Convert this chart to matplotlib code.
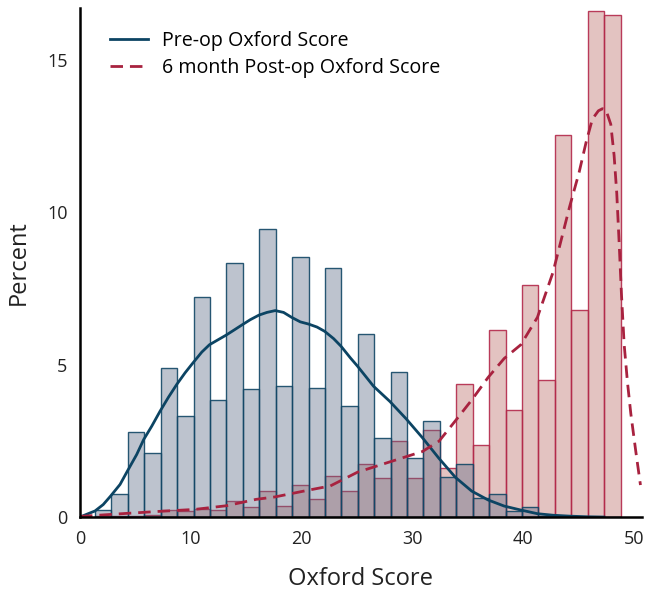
import numpy as np
import matplotlib
matplotlib.use('Agg')
import matplotlib.pyplot as plt

plt.rcParams['font.family'] = ['Open Sans', 'DejaVu Sans']

# histogram bins (32 bins of ~1.48 points)
bin_edges = np.linspace(1.36, 48.8, 33)

# percent of patients per bin
pre_op = [0.22, 0.77, 2.79, 2.09, 4.89, 3.31, 7.20, 3.83, 8.33, 4.19, 9.46, 4.31,
          8.52, 4.22, 8.16, 3.63, 5.99, 2.60, 4.77, 1.92, 3.16, 1.30, 1.75, 0.62,
          0.77, 0.20, 0.34, 0.05, 0.02, 0.01, 0.0, 0.0]
post_op = [0.02, 0.04, 0.05, 0.08, 0.22, 0.20, 0.25, 0.22, 0.53, 0.34, 0.85, 0.36,
           1.05, 0.60, 1.36, 0.84, 1.75, 1.27, 2.49, 1.27, 2.87, 1.62, 4.37, 2.35,
           6.12, 3.50, 7.60, 4.49, 12.52, 6.78, 16.59, 16.45]

# density curves
pre_kde_x = [0.0, 0.6, 1.36, 2.1, 2.77, 3.62, 4.27, 5.12, 5.75, 6.48, 7.23, 7.99,
             8.74, 9.49, 10.19, 11.0, 11.69, 12.5, 13.17, 13.86, 14.67, 15.37,
             16.15, 16.88, 17.63, 18.38, 19.1, 19.89, 20.62, 21.4, 22.09, 22.9,
             23.57, 24.41, 25.05, 26.5, 27.98, 29.45, 30.92, 32.42, 33.9, 35.37,
             36.85, 38.3, 39.8, 41.3, 42.7, 44.2, 45.7, 47.3]
pre_kde_y = [0.0, 0.09, 0.20, 0.41, 0.69, 1.07, 1.50, 2.05, 2.54, 2.98, 3.47, 3.93,
             4.35, 4.73, 5.05, 5.41, 5.65, 5.82, 5.96, 6.12, 6.31, 6.47,
             6.62, 6.71, 6.77, 6.71, 6.55, 6.40, 6.33, 6.23, 6.09, 5.85,
             5.60, 5.22, 4.95, 4.29, 3.79, 3.22, 2.60, 1.92, 1.30, 0.85,
             0.56, 0.36, 0.23, 0.11, 0.06, 0.03, 0.01, 0.0]
post_kde_x = [0.0, 4.2, 7.35, 10.35, 13.2, 15.9, 17.6, 20.6, 22.6, 25.05, 27.98,
              30.92, 32.42, 33.9, 35.37, 36.85, 38.3, 39.8, 41.3, 42.7, 44.2, 45.06,
              45.7, 46.26, 46.8, 47.17, 47.47, 47.92, 48.22, 48.46, 48.67, 48.88,
              49.13, 49.43, 49.73, 50.18, 50.6]
post_kde_y = [0.02, 0.12, 0.19, 0.25, 0.37, 0.58, 0.66, 0.88, 1.02, 1.47, 1.81,
              2.15, 2.49, 3.16, 3.84, 4.58, 5.20, 5.65, 6.55, 8.02, 10.17, 11.30,
              12.30, 13.05, 13.32, 13.39, 13.36, 12.88, 11.86, 10.62, 9.04, 7.34,
              5.65, 4.41, 3.39, 2.15, 1.05]

blue = '#0c4463'
red = '#a8223f'

fig = plt.figure(figsize=(6.47, 5.95), dpi=100)
ax = fig.add_axes([0.1236, 0.131, 0.868, 0.856])

centers = (bin_edges[:-1] + bin_edges[1:]) / 2
ax.hist(centers, bins=bin_edges, weights=post_op, facecolor=(0.735, 0.42, 0.40, 0.4),
        edgecolor=(0.70, 0.16, 0.29, 0.9), linewidth=1.0)
ax.hist(centers, bins=bin_edges, weights=pre_op, facecolor=(0.36, 0.42, 0.52, 0.4),
        edgecolor=(0.07, 0.28, 0.40, 0.9), linewidth=1.0)

ax.plot(pre_kde_x, pre_kde_y, color=blue, lw=2.0, label='Pre-op Oxford Score')
ax.plot(post_kde_x, post_kde_y, color=red, lw=2.0, dashes=(4.5, 2.5),
        label='6 month Post-op Oxford Score')

ax.set_xlim(0, 50.7)
ax.set_ylim(0, 16.7)
ax.set_xticks([0, 10, 20, 30, 40, 50])
ax.set_yticks([0, 5, 10, 15])
ax.tick_params(length=0, labelsize=13, labelcolor='#222222', pad=9)

for s in ['top', 'right']:
    ax.spines[s].set_visible(False)
for s in ['left', 'bottom']:
    ax.spines[s].set_linewidth(1.8)
    ax.spines[s].set_color('black')

ax.set_xlabel('Oxford Score', fontsize=17, color='#222222', labelpad=14)
ax.set_ylabel('Percent', fontsize=17, color='#222222', labelpad=12)

ax.legend(loc='upper left', bbox_to_anchor=(0.053, 0.955), frameon=False,
          fontsize=14.1, handlelength=1.95, handletextpad=0.7,
          labelspacing=0.38, borderpad=0, borderaxespad=0)

fig.savefig('out.png', dpi=100)
